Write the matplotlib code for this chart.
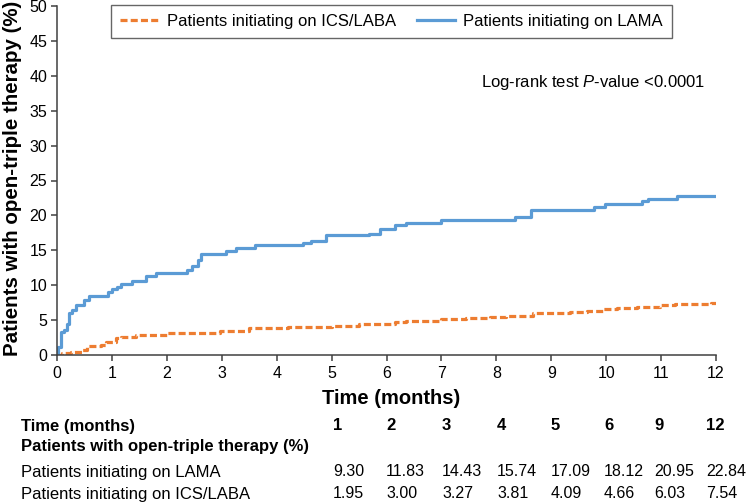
import matplotlib
matplotlib.use("Agg")
import matplotlib.pyplot as plt

plt.rcParams["font.family"] = ["Liberation Sans", "DejaVu Sans"]
plt.rcParams["mathtext.fontset"] = "custom"
plt.rcParams["mathtext.rm"] = "Liberation Sans"
plt.rcParams["mathtext.it"] = "Liberation Sans:italic"

# Kaplan-Meier style cumulative curves (months, %)
lama_t = [0, 0.02, 0.07, 0.13, 0.19, 0.22, 0.28, 0.34, 0.49, 0.58, 0.92, 1.01, 1.10,
          1.16, 1.37, 1.62, 1.80, 2.36, 2.45, 2.56, 2.62, 3.08, 3.26, 3.60, 4.48, 4.63,
          4.90, 5.69, 5.88, 6.15, 6.36, 7.00, 8.34, 8.64, 9.77, 9.98, 10.65, 10.77,
          11.29, 12.0]
lama_v = [0, 1.2, 3.3, 3.6, 4.5, 6.0, 6.4, 7.2, 7.9, 8.45, 9.07, 9.4, 9.8, 10.2, 10.65,
          11.3, 11.7, 12.2, 12.75, 13.6, 14.5, 14.95, 15.4, 15.8, 16.1, 16.4, 17.2, 17.4,
          18.1, 18.6, 18.95, 19.4, 19.8, 20.8, 21.2, 21.6, 22.1, 22.4, 22.8, 22.8]

ics_t = [0, 0.1, 0.25, 0.46, 0.55, 0.8, 0.89, 1.07, 1.16, 1.43, 2.0, 2.97, 3.5, 4.2,
         5.0, 5.5, 6.15, 6.36, 7.0, 7.45, 7.88, 8.18, 8.67, 9.34, 9.65, 9.95, 10.19,
         10.56, 10.98, 11.25, 11.9, 12.0]
ics_v = [0, 0.3, 0.5, 0.7, 1.3, 1.5, 1.9, 2.4, 2.6, 2.8, 3.1, 3.4, 3.8, 3.96, 4.15, 4.4,
         4.7, 4.9, 5.1, 5.35, 5.5, 5.6, 5.97, 6.2, 6.3, 6.55, 6.8, 6.9, 7.1, 7.25, 7.4, 7.5]

# summary table below the chart
table_months = ["1", "2", "3", "4", "5", "6", "9", "12"]
table_lama = ["9.30", "11.83", "14.43", "15.74", "17.09", "18.12", "20.95", "22.84"]
table_ics = ["1.95", "3.00", "3.27", "3.81", "4.09", "4.66", "6.03", "7.54"]

BLUE = "#5b9bd5"
ORANGE = "#ed7d31"
AXIS = "#404040"

W, H = 748, 504
fig = plt.figure(figsize=(W / 100, H / 100), dpi=100)


def fx(px):
    return px / W


def fy(py):
    return 1 - py / H


ax = fig.add_axes([fx(57), fy(355), (716 - 57) / W, (355 - 6) / H])

ax.step(ics_t, ics_v, where="post", color=ORANGE, lw=2.3,
        linestyle=(0, (2.2, 1.0)), label="Patients initiating on ICS/LABA")
ax.step(lama_t, lama_v, where="post", color=BLUE, lw=2.3,
        label="Patients initiating on LAMA")

ax.set_xlim(0, 12)
ax.set_ylim(0, 50)
ax.set_xticks(range(0, 13))
ax.set_yticks(range(0, 51, 5))
ax.spines[["top", "right"]].set_visible(False)
for s in ("left", "bottom"):
    ax.spines[s].set_color(AXIS)
    ax.spines[s].set_linewidth(1.1)
ax.tick_params(axis="both", colors=AXIS, labelcolor="black", labelsize=11.5,
               width=1.1, length=4.5)
ax.tick_params(axis="y", pad=2.5)
ax.tick_params(axis="x", pad=3.5)

fig.text(fx(705), fy(83), "Log-rank test $P$-value <0.0001",
         ha="right", va="center", fontsize=12)

leg = fig.legend(loc="upper left", bbox_to_anchor=(fx(111), fy(5)),
                 ncol=2, fontsize=12, frameon=True, fancybox=False,
                 handlelength=2.3, handletextpad=0.5, columnspacing=1.25,
                 borderpad=0.55, borderaxespad=0)
leg.get_frame().set_edgecolor(AXIS)
leg.get_frame().set_linewidth(1.0)

fig.text(fx(13), fy(178), "Patients with open-triple therapy (%)", rotation=90,
         ha="center", va="center", fontsize=14.8, fontweight="bold")
fig.text(fx(391), fy(398), "Time (months)", ha="center", va="center",
         fontsize=14.5, fontweight="bold")

# table
col_x = [333, 386, 442, 497, 551, 604, 654, 706]
row_y = [426, 447, 472, 494]
fig.text(fx(21), fy(row_y[0]), "Time (months)", ha="left", va="center",
         fontsize=12, fontweight="bold")
fig.text(fx(21), fy(row_y[1]), "Patients with open-triple therapy (%)",
         ha="left", va="center", fontsize=12, fontweight="bold")
fig.text(fx(21), fy(row_y[2]), "Patients initiating on LAMA", ha="left",
         va="center", fontsize=12)
fig.text(fx(21), fy(row_y[3]), "Patients initiating on ICS/LABA", ha="left",
         va="center", fontsize=12)
for x, m, a, b in zip(col_x, table_months, table_lama, table_ics):
    fig.text(fx(x), fy(row_y[0]), m, ha="left", va="center", fontsize=12,
             fontweight="bold")
    fig.text(fx(x), fy(row_y[2]), a, ha="left", va="center", fontsize=11.5)
    fig.text(fx(x), fy(row_y[3]), b, ha="left", va="center", fontsize=11.5)

fig.savefig("out.png", dpi=100)
